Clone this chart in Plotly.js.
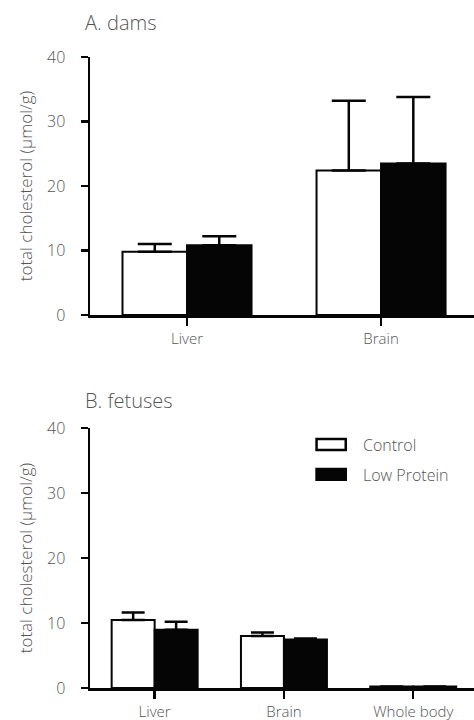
<!DOCTYPE html>
<html>
<head>
<meta charset="utf-8">
<script src="https://cdn.plot.ly/plotly-3.0.1.min.js"></script>
<style>
  html, body { margin: 0; padding: 0; background: #fff; overflow: hidden; }
  #chart { width: 474px; height: 720px; }
</style>
</head>
<body>
<div id="chart"></div>
<script>
// Total cholesterol (µmol/g), mean with upper SEM, Control vs Low Protein diet
const seriesNames = ["Control", "Low Protein"];

// A. dams
const damCategories = ["Liver", "Brain"];
const damControl = [9.8, 22.4];
const damControlErr = [1.2, 10.8];
const damLowProtein = [10.8, 23.5];
const damLowProteinErr = [1.4, 10.3];

// B. fetuses
const fetusCategories = ["Liver", "Brain", "Whole body"];
const fetusControl = [10.45, 8.0];
const fetusControlErr = [1.15, 0.55];
const fetusLowProtein = [8.95, 7.45];
const fetusLowProteinErr = [1.25, 0.15];
const fetusWholeBody = { control: 0.25, lowProtein: 0.25 };

const yTicks = [0, 10, 20, 30, 40];
const yTitle = "total cholesterol (µmol/g)";

const FONT = "'Open Sans', Lato, sans-serif";
const GREY = "#555555";
const INK = "#050505";

function upperErr(arr, capHalf) {
  return {
    type: "data", symmetric: false, array: arr, arrayminus: arr.map(() => 0),
    color: INK, thickness: 2.5, width: capHalf
  };
}

const fetusControlAll = fetusControl.concat([fetusWholeBody.control]);
const fetusLowAll = fetusLowProtein.concat([fetusWholeBody.lowProtein]);

const traces = [
  { type: "bar", name: seriesNames[0], x: damCategories, y: damControl,
    xaxis: "x", yaxis: "y", showlegend: false,
    marker: { color: "#ffffff", line: { color: INK, width: 2 } },
    error_y: upperErr(damControlErr, 17) },
  { type: "bar", name: seriesNames[1], x: damCategories, y: damLowProtein,
    xaxis: "x", yaxis: "y", showlegend: false,
    marker: { color: INK, line: { color: INK, width: 2 } },
    error_y: upperErr(damLowProteinErr, 17) },
  { type: "bar", name: seriesNames[0], x: fetusCategories, y: fetusControlAll,
    xaxis: "x2", yaxis: "y2", showlegend: false,
    marker: { color: "#ffffff", line: { color: INK, width: 2 } },
    error_y: upperErr(fetusControlErr.concat([0]), 11.5) },
  { type: "bar", name: seriesNames[1], x: fetusCategories, y: fetusLowAll,
    xaxis: "x2", yaxis: "y2", showlegend: false,
    marker: { color: INK, line: { color: INK, width: 2 } },
    error_y: upperErr(fetusLowProteinErr.concat([0]), 11.5) }
];

const yBase = {
  range: [0, 40], tickvals: yTicks, ticks: "outside", ticklen: 7, tickwidth: 2.5,
  tickcolor: INK, showline: true, linewidth: 2.5, linecolor: INK,
  showgrid: false, zeroline: false, ticklabelstandoff: 12,
  tickfont: { family: FONT, size: 16, color: GREY, weight: 300 },
  title: { text: yTitle, standoff: 10, font: { family: FONT, size: 17, color: GREY, weight: 300 } },
  fixedrange: true
};
const xBase = {
  type: "category", ticks: "outside", ticklen: 8, tickwidth: 2.5, tickcolor: INK,
  showline: true, linewidth: 2.5, linecolor: INK, showgrid: false, zeroline: false,
  tickfont: { family: FONT, size: 15, color: GREY, weight: 300 }, fixedrange: true
};

// legend key drawn in paper space next to panel B
const keyX0 = 0.590, keyX1 = 0.666, textX = 0.705;
const keyRows = [
  { y0: 0.3772, y1: 0.3946, fill: "#ffffff", ty: 0.3845 },
  { y0: 0.3300, y1: 0.3470, fill: INK, ty: 0.3370 }
];

const layout = {
  width: 474, height: 720,
  margin: { l: 90, r: 0, t: 57, b: 32 },
  paper_bgcolor: "#ffffff", plot_bgcolor: "#ffffff",
  barmode: "group", bargap: 0.335, bargroupgap: 0,
  showlegend: false,
  font: { family: FONT, color: GREY },
  xaxis: Object.assign({}, xBase, { anchor: "y", range: [-0.5, 1.479] }),
  yaxis: Object.assign({}, yBase, { anchor: "x", domain: [0.5911, 1] }),
  xaxis2: Object.assign({}, xBase, { anchor: "y2", range: [-0.5, 2.47] }),
  yaxis2: Object.assign({}, yBase, { anchor: "x2", domain: [0, 0.412] }),
  shapes: keyRows.map(r => ({
    type: "rect", xref: "paper", yref: "paper",
    x0: keyX0, x1: keyX1, y0: r.y0, y1: r.y1,
    fillcolor: r.fill, line: { color: INK, width: 2.5 }
  })),
  annotations: [
    { text: "A. dams", xref: "paper", yref: "paper", x: -0.018, y: 1.054,
      xanchor: "left", yanchor: "middle", showarrow: false,
      font: { family: FONT, size: 20, color: GREY, weight: 300 } },
    { text: "B. fetuses", xref: "paper", yref: "paper", x: -0.018, y: 0.456,
      xanchor: "left", yanchor: "middle", showarrow: false,
      font: { family: FONT, size: 20, color: GREY, weight: 300 } }
  ].concat(keyRows.map((r, i) => ({
    text: seriesNames[i], xref: "paper", yref: "paper", x: textX, y: r.ty,
    xanchor: "left", yanchor: "middle", showarrow: false,
    font: { family: FONT, size: 16, color: GREY, weight: 300 }
  })))
};

Plotly.newPlot("chart", traces, layout, { displayModeBar: false, staticPlot: true });
</script>
</body>
</html>
